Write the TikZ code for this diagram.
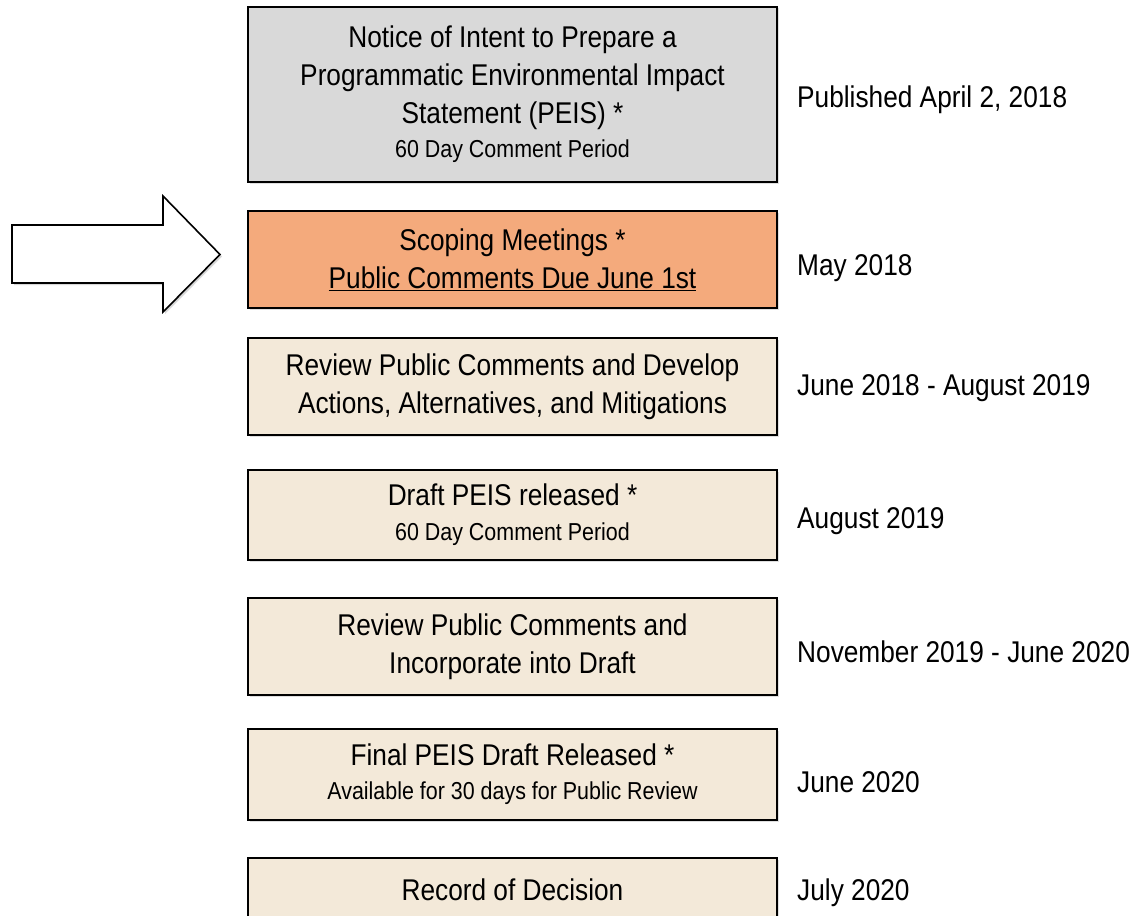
\documentclass[tikz,border=0pt]{standalone}
\usepackage{fontspec}
\setmainfont{Liberation Sans}[FakeStretch=0.875]
\usetikzlibrary{shadows}
\definecolor{stepgray}{HTML}{D9D9D9}
\definecolor{steporange}{HTML}{F4AA7C}
\definecolor{steptan}{HTML}{F3E9D9}
\newcommand{\bigtxt}{\fontsize{30}{38}\selectfont}
\newcommand{\smalltxt}{\fontsize{24.5}{30}\selectfont}
\tikzset{
  stepbox/.style={draw=black, line width=1.6pt, minimum width=529pt,
    align=center, inner sep=0pt, font=\bigtxt,
    drop shadow={opacity=0.25, shadow xshift=1.5pt, shadow yshift=-1.5pt}},
  datelabel/.style={anchor=west, inner sep=0pt, font=\bigtxt},
}
\begin{document}
\begin{tikzpicture}[x=1pt, y=-1pt]
  \clip (0,0) rectangle (1134,915);
  \fill[white] (0,0) rectangle (1134,915);

  % timeline steps
  \node[stepbox, fill=stepgray, minimum height=175pt] (noi) at (512.5,94.5)
    {Notice of Intent to Prepare a\\ Programmatic Environmental Impact\\ Statement (PEIS) *\\[-4pt] {\smalltxt 60 Day Comment Period}};
  \node[stepbox, fill=steporange, minimum height=97pt] (scope) at (512.5,259.5)
    {Scoping Meetings *\\ \underline{Public Comments Due June 1st}};
  \node[stepbox, fill=steptan, minimum height=97pt] (review1) at (512.5,386.5)
    {Review Public Comments and Develop\\ Actions, Alternatives, and Mitigations};
  \node[stepbox, fill=steptan, minimum height=90pt] (draft) at (512.5,515)
    {Draft PEIS released *\\[-3pt] {\smalltxt 60 Day Comment Period}};
  \node[stepbox, fill=steptan, minimum height=91pt] (final) at (512.5,774.5)
    {Final PEIS Draft Released *\\[-4pt] {\smalltxt Available for 30 days for Public Review}};
  \node[stepbox, fill=steptan, minimum height=97pt] (review2) at (512.5,646.5)
    {Review Public Comments and\\ Incorporate into Draft};
  \node[stepbox, fill=steptan, minimum height=64pt] (rod) at (512.5,890)
    {Record of Decision};

  % dates
  \node[datelabel] (d1) at (797,100) {Published April 2, 2018};
  \node[datelabel] (d2) at (797,268) {May 2018};
  \node[datelabel] (d3) at (797,388) {June 2018 - August 2019};
  \node[datelabel] (d4) at (797,521) {August 2019};
  \node[datelabel] (d5) at (797,652) {November 2019 - June 2020};
  \node[datelabel] (d6) at (797,782) {June 2020};
  \node[datelabel] (d7) at (797,893) {July 2020};

  % current-stage marker
  \draw[line width=1.6pt, fill=white, line join=miter,
    drop shadow={opacity=0.3, shadow xshift=2pt, shadow yshift=-2pt}]
    (12,225) -- (163,225) -- (163,196) -- (220,254.5) -- (163,312)
    -- (163,283) -- (12,283) -- cycle;
\end{tikzpicture}
\end{document}
